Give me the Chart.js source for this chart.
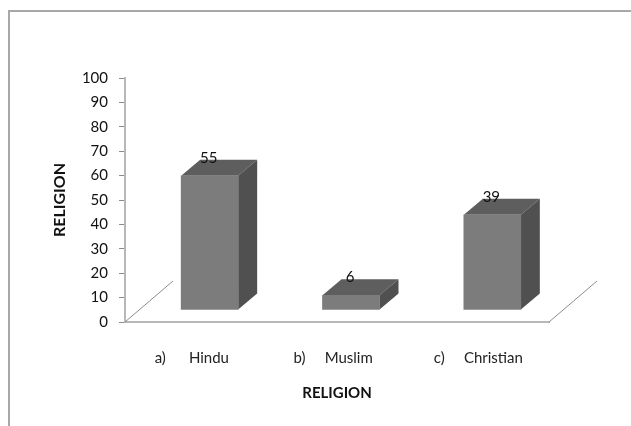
<!DOCTYPE html>
<html>
<head>
<meta charset="utf-8">
<style>
  html, body { margin: 0; padding: 0; background: #fff; overflow: hidden; }
  #wrap { position: relative; width: 631px; height: 426px; }
  #frame { position: absolute; left: 8px; top: 10px; right: 0; bottom: 0;
           border-left: 2px solid #a8a8a8; border-top: 2px solid #a8a8a8; }
  canvas { position: absolute; left: 0; top: 0; }
</style>
<script src="https://cdn.jsdelivr.net/npm/chart.js@4"></script>
</head>
<body>
<div id="wrap"><div id="frame"></div><canvas id="c" width="631" height="426"></canvas></div>
<script>
const categories = ['a)      Hindu  ', 'b)     Muslim  ', 'c)     Christian'];
const values = [55, 6, 39];
const axisMin = 0;
const axisMax = 100;
const axisStep = 10;
const axisTitle = 'RELIGION';
const fontFamily = 'Lato, "Open Sans", sans-serif';

// Offsets of the 3D look: front faces sit forward on the floor, tops recede up and right.
const shiftX = 14, shiftY = -12;
const depthX = 19, depthY = -16;
const floorDepthX = 48, floorDepthY = -41;

const faces = { front: '#7c7c7c', top: '#5e5e5e', side: '#505050' };

const poly = (ctx, pts, fill) => {
  ctx.beginPath();
  pts.forEach(([x, y], i) => i ? ctx.lineTo(x, y) : ctx.moveTo(x, y));
  ctx.closePath();
  ctx.fillStyle = fill;
  ctx.fill();
};

const floorAndBlocks = {
  id: 'floorAndBlocks',
  beforeDatasetsDraw(chart) {
    const { ctx, chartArea: a } = chart;
    ctx.save();
    ctx.strokeStyle = '#8c8c8c';
    ctx.lineWidth = 1;
    [a.left, a.right].forEach(x => {
      ctx.beginPath();
      ctx.moveTo(x, a.bottom);
      ctx.lineTo(x + floorDepthX, a.bottom + floorDepthY);
      ctx.stroke();
    });
    ctx.restore();

    // Receding faces are built from each bar element's own geometry.
    ctx.save();
    ctx.translate(shiftX, shiftY);
    chart.getDatasetMeta(0).data.forEach(bar => {
      const p = bar.getProps(['x', 'y', 'base', 'width'], true);
      const l = p.x - p.width / 2, r = p.x + p.width / 2;
      poly(ctx, [[l, p.y], [l + depthX, p.y + depthY], [r + depthX, p.y + depthY], [r, p.y]], faces.top);
      poly(ctx, [[r, p.y], [r + depthX, p.y + depthY], [r + depthX, p.base + depthY], [r, p.base]], faces.side);
    });
  },
  afterDatasetsDraw(chart) {
    const { ctx } = chart;
    ctx.restore();
    ctx.save();
    ctx.fillStyle = '#111';
    ctx.font = '15px ' + fontFamily;
    ctx.textAlign = 'center';
    ctx.textBaseline = 'middle';
    chart.getDatasetMeta(0).data.forEach((bar, i) => {
      ctx.fillText(String(values[i]), bar.x + shiftX - 1, bar.y + shiftY - 18);
    });
    ctx.restore();
  }
};

new Chart(document.getElementById('c'), {
  type: 'bar',
  data: {
    labels: categories,
    datasets: [{
      data: values,
      backgroundColor: faces.front,
      barThickness: 57,
      clip: false
    }]
  },
  plugins: [floorAndBlocks],
  options: {
    responsive: false,
    animation: false,
    layout: { padding: { top: 78, right: 82, left: 0, bottom: 0 } },
    plugins: { legend: { display: false }, tooltip: { enabled: false } },
    scales: {
      x: {
        afterFit(s) { s.height = 104; },
        grid: { display: false },
        border: { color: '#b8b8b8', width: 2 },
        ticks: { color: '#222', font: { family: fontFamily, size: 15 }, padding: 19, maxRotation: 0 },
        title: { display: true, text: axisTitle, color: '#111', padding: { top: 20, bottom: 24 },
                 font: { family: fontFamily, size: 15, weight: 'bold' } }
      },
      y: {
        min: axisMin,
        max: axisMax,
        afterFit(s) { s.width = 125; },
        grid: { drawOnChartArea: false, color: '#8c8c8c', tickLength: 6 },
        border: { color: '#b8b8b8', width: 2 },
        ticks: { stepSize: axisStep, color: '#111', padding: 11, font: { family: fontFamily, size: 15 } },
        title: { display: true, text: axisTitle, color: '#111', padding: { top: 50, bottom: 0 },
                 font: { family: fontFamily, size: 16, weight: 'bold' } }
      }
    }
  }
});
</script>
</body>
</html>
